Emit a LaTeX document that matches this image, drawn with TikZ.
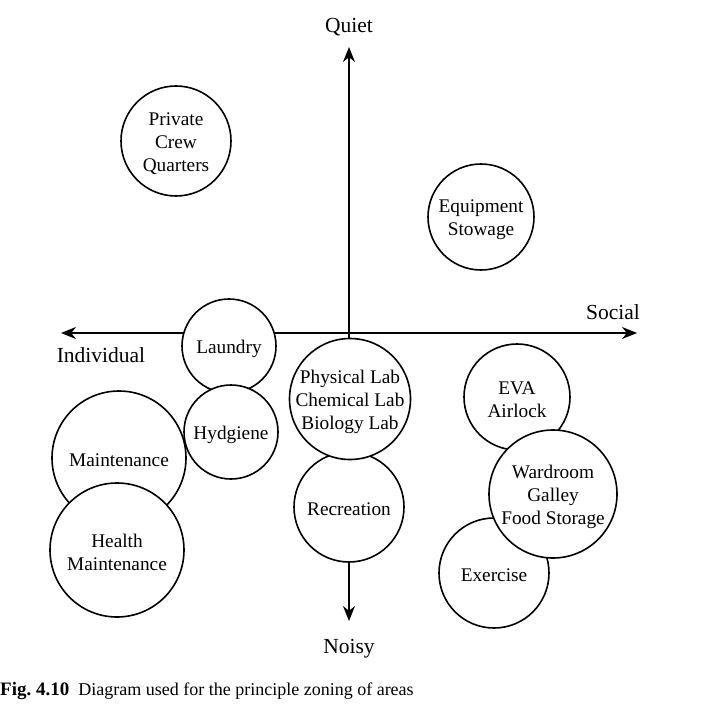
\documentclass[tikz,border=0pt]{standalone}
\usepackage{fontspec}
\setmainfont{Liberation Serif}
\usetikzlibrary{arrows.meta}
\begin{document}
\begin{tikzpicture}[x=1pt,y=-1pt,
  zonetext/.style={align=center,inner sep=0pt,yshift=-2.5pt,font=\fontsize{19.3}{23}\selectfont},
  zone/.style={circle,draw,line width=1.6pt,fill=white,inner sep=0pt,
    label={[zonetext]center:#1}},
  axislabel/.style={anchor=base,font=\fontsize{21.5}{25}\selectfont},
  axis/.style={line width=1.6pt,{Stealth[length=15pt,width=12pt]}-{Stealth[length=15pt,width=12pt]}}]
\useasboundingbox (0,0) rectangle (701,708);
% axes
\coordinate (top) at (349,47);
\coordinate (bottom) at (349,621);
\coordinate (left) at (61,333);
\coordinate (right) at (637,333);
\draw[axis] (bottom) -- (top);
\draw[axis] (left) -- (right);
\node[axislabel] (quiet) at (349,33) {Quiet};
\node[axislabel] (noisy) at (349,653) {Noisy};
\node[axislabel] (social) at (613,319) {Social};
\node[axislabel] (individual) at (101,362) {Individual};
% zones
\node[zone={Private\\Crew\\Quarters},minimum size=110pt] (pcq) at (176,141) {};
\node[zone={Equipment\\Stowage},minimum size=106pt] (equip) at (481,217) {};
\node[zone={Laundry},minimum size=94pt] (laundry) at (229,346) {};
\node[zone={Hydgiene},minimum size=94pt] (hyg) at (231,432) {};
\node[zone={Recreation},minimum size=110pt] (rec) at (349,507) {};
\node[zone={Physical Lab\\Chemical Lab\\Biology Lab},minimum size=121pt] (lab) at (350,399) {};
\node[zone={Maintenance},minimum size=134pt] (maint) at (119,458) {};
\node[zone={Health\\Maintenance},minimum size=134pt] (health) at (117,550) {};
\node[zone={EVA\\Airlock},minimum size=106pt] (eva) at (517,397) {};
\node[zone={Exercise},minimum size=110pt] (exercise) at (494,573) {};
\node[zone={Wardroom\\Galley\\Food Storage},minimum size=128pt] (ward) at (553,494) {};
% caption
\node[anchor=base west,inner sep=0pt,font=\fontsize{18}{22}\selectfont] (caption) at (0,695)
  {\textbf{\fontsize{19}{22}\selectfont Fig.\ 4.10}\hspace{9pt}Diagram used for the principle zoning of areas};
\end{tikzpicture}
\end{document}
